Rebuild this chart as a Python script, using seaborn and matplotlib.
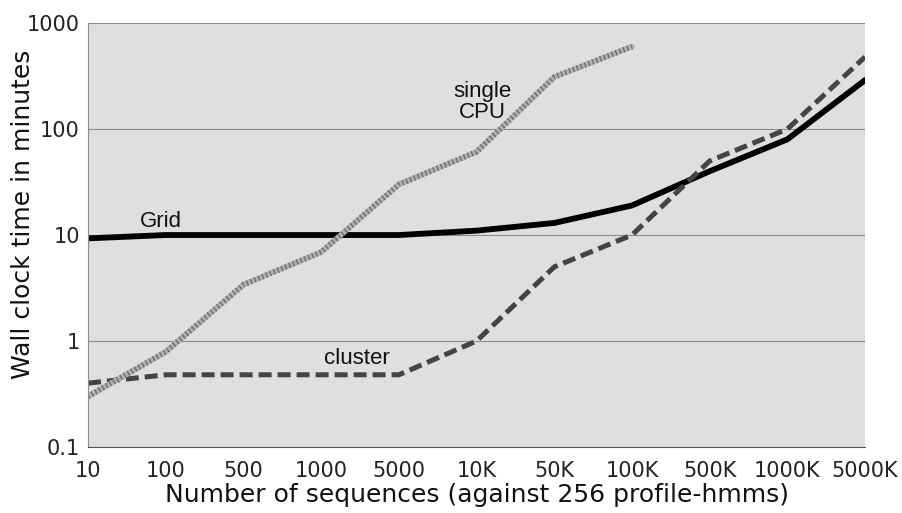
import numpy as np
import pandas as pd
import matplotlib
matplotlib.use("Agg")
import matplotlib.pyplot as plt
import seaborn as sns

# ── DATA ─────────────────────────────────────────────
sizes = ["10", "100", "500", "1000", "5000", "10K", "50K", "100K", "500K", "1000K", "5000K"]
grid_times = [9.3, 10, 10, 10, 10, 11, 13, 19, 40, 80, 290]
cluster_times = [0.40, 0.48, 0.48, 0.48, 0.48, 1.0, 5.0, 10, 50, 100, 480]
single_sizes = sizes[:8]
single_times = [0.30, 0.79, 3.4, 6.9, 30, 61, 310, 600]
y_ticks = [0.1, 1, 10, 100, 1000]
y_labels = ["0.1", "1", "10", "100", "1000"]

sns.set_style("whitegrid", {
    "axes.facecolor": "#dfdfdf",
    "grid.color": "#8c8c8c",
    "axes.edgecolor": "#707070",
})
plt.rcParams["font.family"] = ["DejaVu Sans"]

fig = plt.figure(figsize=(9.03, 5.13), dpi=100)
ax = fig.add_axes([0.0975, 0.1287, 0.8605, 0.8263])

pos = np.arange(len(sizes))
sns.lineplot(x=pos, y=grid_times, ax=ax, color="black", linewidth=4.2, sort=False)
sns.lineplot(x=pos, y=cluster_times, ax=ax, color="#444444", linewidth=3.6,
             linestyle=(0, (2.6, 1.2)), sort=False)
sp = np.arange(len(single_sizes))
sns.lineplot(x=sp, y=single_times, ax=ax, color="#b0b0b0", linewidth=4, sort=False)
sns.lineplot(x=sp, y=single_times, ax=ax, color="#6e6e6e", linewidth=4,
             linestyle=(0, (0.25, 0.5)), sort=False)

ax.set_yscale("log")
ax.set_ylim(0.1, 1000)
ax.set_xlim(0, len(sizes) - 1)
ax.set_yticks(y_ticks)
ax.set_yticklabels(y_labels)
ax.yaxis.set_minor_locator(matplotlib.ticker.NullLocator())
ax.set_xticks(pos)
ax.set_xticklabels(sizes)
ax.grid(axis="x", visible=False)
ax.grid(axis="y", linewidth=0.8)
ax.tick_params(axis="both", length=5, width=0.8, color="#707070",
               labelsize=15, labelcolor="#222222")
ax.tick_params(axis="x", pad=5)
ax.tick_params(axis="y", pad=1)
for s in ["top", "right"]:
    ax.spines[s].set_visible(False)
ax.spines["left"].set_color("#909090")
ax.spines["bottom"].set_color("#555555")

ax.set_xlabel("Number of sequences (against 256 profile-hmms)", fontsize=18, color="#111111")
ax.set_ylabel("Wall clock time in minutes", fontsize=18, color="#111111")
ax.xaxis.set_label_coords(0.5, -0.085)
ax.yaxis.set_label_coords(-0.068, 0.55)

lab = dict(family=["Liberation Sans", "DejaVu Sans"], fontsize=16, color="#111111", ha="center")
ax.text(0.94, 11.9, "Grid", va="baseline", **lab)
ax.text(5.08, 180, "single\nCPU", linespacing=1.0, va="center", **lab)
ax.text(3.46, 0.61, "cluster", va="baseline", **lab)

fig.savefig("out.png", dpi=100)
